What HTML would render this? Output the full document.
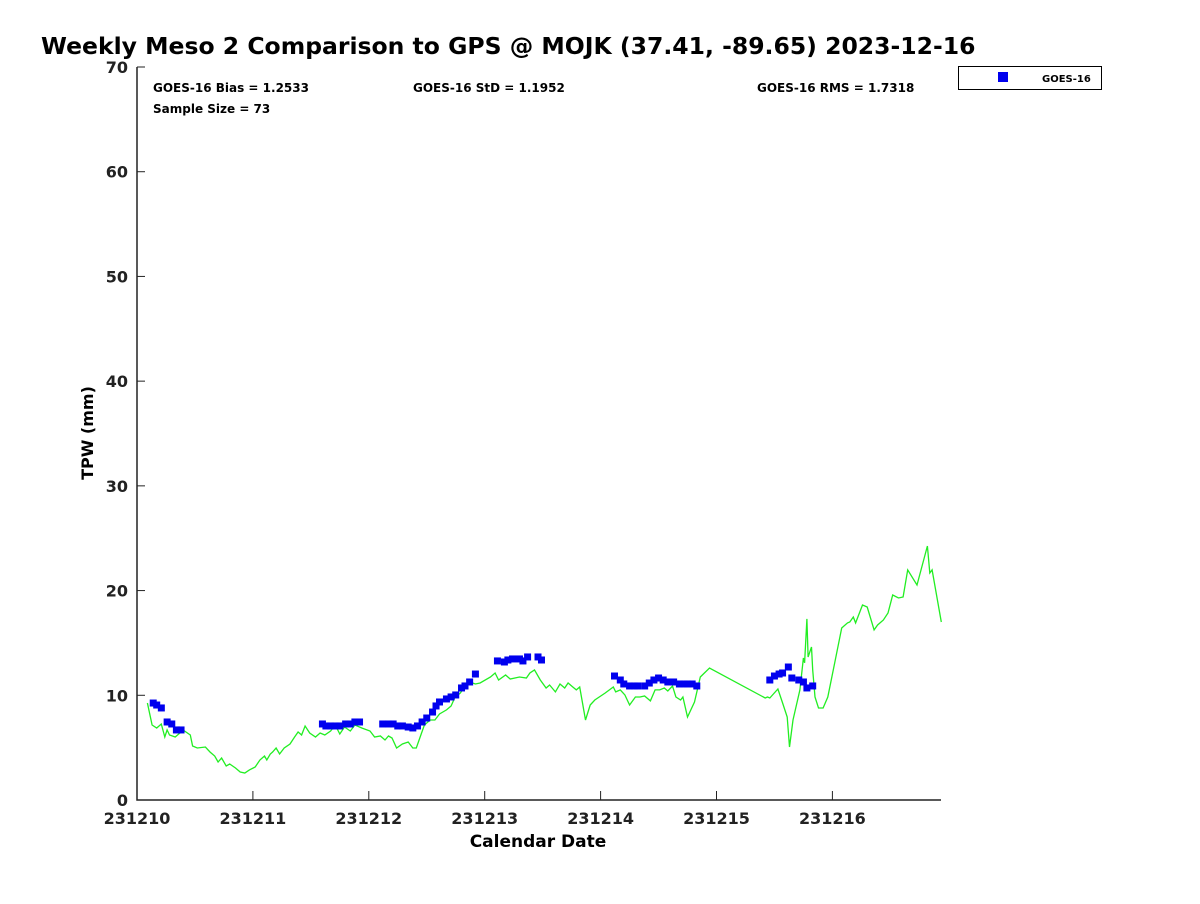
<!DOCTYPE html>
<html><head><meta charset="utf-8"><style>
body{margin:0;background:#fff;font-family:"DejaVu Sans","Liberation Sans",sans-serif}
svg text{font-family:"DejaVu Sans","Liberation Sans",sans-serif;font-weight:bold}
</style></head><body>
<svg id="chart" width="1200" height="900" xmlns="http://www.w3.org/2000/svg">
<text x="41" y="54" font-size="23.5" fill="#000">Weekly Meso 2 Comparison to GPS @ MOJK (37.41, -89.65) 2023-12-16</text>
<g id="axes"></g>
<g id="series"></g>
<text x="153" y="92" font-size="12">GOES-16 Bias = 1.2533</text>
<text x="413" y="92" font-size="12">GOES-16 StD = 1.1952</text>
<text x="757" y="92" font-size="12">GOES-16 RMS = 1.7318</text>
<text x="153" y="113" font-size="12">Sample Size = 73</text>
<g>
<rect x="958.5" y="66.5" width="143" height="23" fill="#fff" stroke="#000" stroke-width="1"/>
<rect x="998" y="72" width="10" height="10" fill="#0000ee"/>
<text x="1042" y="82" font-size="10">GOES-16</text>
</g>
<text x="538" y="847" font-size="17" text-anchor="middle">Calendar Date</text>
<text x="93" y="433" font-size="16" text-anchor="middle" transform="rotate(-90 93 433)">TPW (mm)</text>
</svg>
<script>
const xTickLabels=["231210","231211","231212","231213","231214","231215","231216"];
const yTickValues=[0,10,20,30,40,50,60,70];
const gpsDays=[0.09,0.13,0.17,0.21,0.24,0.26,0.28,0.33,0.37,0.41,0.46,0.48,0.52,0.59,0.63,0.67,0.70,0.73,0.77,0.80,0.85,0.89,0.93,0.97,1.02,1.06,1.10,1.12,1.15,1.17,1.20,1.23,1.27,1.32,1.36,1.39,1.42,1.45,1.49,1.54,1.58,1.62,1.67,1.71,1.75,1.79,1.84,1.88,1.94,2.01,2.05,2.10,2.14,2.17,2.20,2.24,2.29,2.34,2.38,2.41,2.44,2.48,2.53,2.57,2.61,2.67,2.71,2.74,2.79,2.83,2.87,2.92,2.96,3.05,3.09,3.12,3.18,3.22,3.30,3.36,3.39,3.43,3.48,3.53,3.56,3.61,3.65,3.69,3.72,3.76,3.79,3.82,3.87,3.91,3.95,4.04,4.11,4.13,4.17,4.21,4.25,4.30,4.34,4.38,4.43,4.47,4.51,4.55,4.58,4.62,4.65,4.69,4.71,4.75,4.81,4.86,4.94,5.42,5.44,5.46,5.53,5.57,5.61,5.63,5.66,5.72,5.75,5.76,5.78,5.79,5.82,5.83,5.85,5.88,5.92,5.96,6.02,6.08,6.13,6.15,6.18,6.20,6.26,6.30,6.36,6.39,6.44,6.48,6.52,6.57,6.61,6.65,6.73,6.82,6.84,6.86,6.94];
const gpsValues=[9.26,7.16,6.88,7.26,6.02,6.69,6.21,6.02,6.40,6.59,6.21,5.16,4.97,5.06,4.58,4.20,3.63,4.01,3.25,3.44,3.06,2.67,2.58,2.87,3.15,3.82,4.20,3.82,4.39,4.58,4.97,4.39,4.97,5.35,6.02,6.49,6.21,7.07,6.40,6.02,6.40,6.21,6.59,7.16,6.30,6.97,6.59,7.16,6.88,6.59,6.02,6.11,5.73,6.11,5.92,4.97,5.35,5.54,4.97,4.97,5.92,7.16,7.64,7.64,8.21,8.60,8.98,9.74,10.22,10.89,11.27,11.08,11.17,11.75,12.13,11.46,11.94,11.56,11.75,11.65,12.13,12.42,11.46,10.70,10.98,10.32,11.08,10.70,11.17,10.79,10.51,10.79,7.64,9.07,9.55,10.22,10.79,10.32,10.51,10.03,9.07,9.84,9.84,9.93,9.46,10.51,10.51,10.70,10.41,10.89,9.84,9.55,9.84,7.93,9.36,11.75,12.61,9.74,9.84,9.74,10.60,9.26,7.93,5.06,7.64,10.51,13.56,13.09,17.29,13.66,14.61,12.42,9.84,8.79,8.79,9.84,13.09,16.43,16.91,17.00,17.48,16.91,18.62,18.43,16.24,16.71,17.19,17.86,19.58,19.29,19.39,21.97,20.53,24.26,21.68,21.97,17.00];
const goesDays=[0.14,0.17,0.21,0.26,0.30,0.34,0.38,1.60,1.63,1.67,1.71,1.75,1.80,1.84,1.88,1.92,2.12,2.17,2.21,2.25,2.29,2.34,2.38,2.42,2.46,2.50,2.55,2.58,2.61,2.67,2.71,2.75,2.80,2.83,2.87,2.92,3.11,3.17,3.20,3.24,3.30,3.33,3.37,3.46,3.49,4.12,4.17,4.20,4.25,4.29,4.32,4.38,4.42,4.46,4.50,4.54,4.58,4.63,4.68,4.72,4.75,4.79,4.83,5.46,5.50,5.54,5.57,5.62,5.65,5.71,5.75,5.78,5.83];
const goesValues=[9.26,9.07,8.79,7.45,7.26,6.69,6.69,7.26,7.07,7.07,7.07,7.07,7.26,7.26,7.45,7.45,7.26,7.26,7.26,7.07,7.07,6.97,6.88,7.07,7.45,7.83,8.40,8.98,9.36,9.65,9.84,10.03,10.70,10.89,11.27,12.03,13.28,13.18,13.37,13.47,13.47,13.28,13.66,13.66,13.37,11.84,11.46,11.08,10.89,10.89,10.89,10.89,11.17,11.46,11.65,11.46,11.27,11.27,11.08,11.08,11.08,11.08,10.89,11.46,11.84,12.03,12.13,12.70,11.65,11.46,11.27,10.70,10.89];
const NS="http://www.w3.org/2000/svg";
const X0=137,X1=941,Y0=800,Y1=67,dayPx=115.9;
function xs(d){return X0+d*dayPx;}
function ys(v){return Y0-(v/70)*(Y0-Y1);}
function mk(tag,attrs,parent){const e=document.createElementNS(NS,tag);for(const k in attrs)e.setAttribute(k,attrs[k]);parent.appendChild(e);return e;}
const axes=document.getElementById('axes'),series=document.getElementById('series');
const frame=mk('path',{d:`M${X0} ${Y1} L${X0} ${Y0} L${X1} ${Y0}`,fill:'none',stroke:'#222','stroke-width':1.5},axes);


yTickValues.forEach(v=>{
  const y=ys(v);
  const t=mk('line',{x1:X0,x2:X0+8,y1:y,y2:y,stroke:'#222','stroke-width':1},axes);
  
  
  const l=mk('text',{x:X0-9,y:y+6,'font-size':16,'text-anchor':'end',fill:'#222'},axes);
  l.textContent=v;
  
  
});
xTickLabels.forEach((s,i)=>{
  const x=xs(i);
  const t=mk('line',{x1:x,x2:x,y1:Y0,y2:Y0-9,stroke:'#222','stroke-width':1},axes);
  
  
  const l=mk('text',{x:x,y:Y0+24,'font-size':16,'text-anchor':'middle',fill:'#222'},axes);
  l.textContent=s;
  
  
});
const pts=gpsDays.map((d,i)=>xs(d).toFixed(1)+','+ys(gpsValues[i]).toFixed(1)).join(' ');
const line=mk('polyline',{points:pts,fill:'none',stroke:'#22ee22','stroke-width':1.3},series);


goesDays.forEach((d,i)=>{
  const r=mk('rect',{x:xs(d)-3.5,y:ys(goesValues[i])-3.5,width:7,height:7,fill:'#0000ee'},series);
  
  
});
</script>
</body></html>
